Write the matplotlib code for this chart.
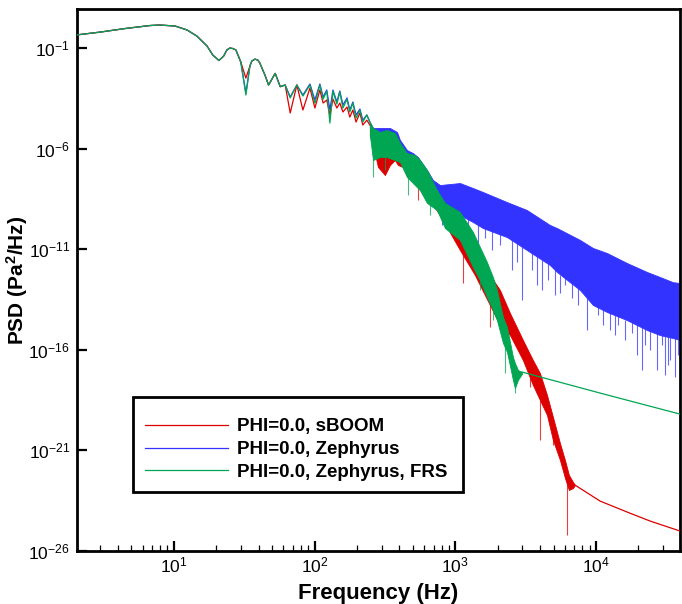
import matplotlib
matplotlib.use("Agg")
import matplotlib.pyplot as plt
from matplotlib.lines import Line2D
from matplotlib.patches import Rectangle
from matplotlib.ticker import NullLocator

plt.rcParams['font.family'] = ['Liberation Sans', 'DejaVu Sans']
plt.rcParams['mathtext.fontset'] = 'custom'
plt.rcParams['mathtext.rm'] = 'Liberation Sans'
plt.rcParams['mathtext.it'] = 'Liberation Sans:italic'
plt.rcParams['mathtext.bf'] = 'Liberation Sans:bold'
plt.rcParams['axes.unicode_minus'] = False

# --- low frequency part (smooth lobes), Hz / Pa^2/Hz ---
line_f = [2.0, 3.0, 4.5, 6.75, 7.9, 10.2, 12.4, 14.6, 17.2, 18.9, 20.9, 22.6, 23.8, 25.0, 26.3,
          27.6, 29.9, 32.5, 34.7, 35.8, 37.7, 39.5, 40.8, 44.4, 47.1, 52.5, 57.0, 61.8, 67.1,
          74.8, 82.6, 92.7, 100.5, 109, 115, 122, 128.5, 135, 144, 151, 159, 170, 178, 187, 197,
          210, 220, 235, 247]
common_start = [0.44, 0.62, 0.93, 1.31, 1.39, 1.24, 0.79, 0.39, 0.126, 0.045, 0.024, 0.040,
                0.080, 0.10, 0.094, 0.080, 0.020]
red_line = common_start + [
    3.2e-3, 0.0127, 0.0226, 0.028, 0.0253, 0.018, 4.5e-3, 1.45e-3, 5.5e-3, 1.2e-3, 1.45e-3,
    5.9e-5, 1.45e-3, 8.3e-5, 1.03e-3, 1.04e-4, 8.2e-4, 1.85e-4, 2.6e-4, 4.7e-5, 2.9e-4,
    1.04e-4, 1.85e-4, 6.6e-5, 1.17e-4, 3.7e-5, 8.3e-5, 2.1e-5, 5.9e-5, 1.49e-5, 2.6e-5,
    1.49e-5]
blue_line = common_start + [
    5.8e-4, 0.0127, 0.0226, 0.028, 0.0253, 0.018, 4.5e-3, 1.45e-3, 5.5e-3, 1.2e-3, 1.45e-3,
    3.7e-4, 1.45e-3, 4.6e-4, 1.63e-3, 2.6e-4, 1.63e-3, 3.7e-4, 8.2e-4, 8.3e-5, 8.2e-4,
    2.07e-4, 7.3e-4, 1.47e-4, 3.3e-4, 8.3e-5, 2.07e-4, 4.7e-5, 9.3e-5, 2.6e-5, 4.7e-5,
    2.1e-5]
green_line = common_start + [
    4.6e-4, 0.0127, 0.0226, 0.028, 0.0253, 0.018, 4.5e-3, 1.45e-3, 5.5e-3, 1.2e-3, 1.45e-3,
    3.3e-4, 1.45e-3, 4.1e-4, 1.45e-3, 1.85e-4, 1.45e-3, 2.9e-4, 7.3e-4, 1.87e-5, 7.3e-4,
    1.65e-4, 6.5e-4, 1.04e-4, 2.9e-4, 6.6e-5, 1.85e-4, 3.3e-5, 8.3e-5, 2.1e-5, 4.7e-5,
    2.1e-5]

# --- noisy part: upper / lower edge of the band ---
red_band_f = [247, 260, 282, 316, 343, 372, 391, 424, 453, 500, 533, 589, 693, 778, 1078, 1378,
              1760, 2075, 2445, 3020, 3558, 3991, 4479, 4938, 5540, 6012, 6412, 6852, 7080]
red_band_hi = [1.49e-5, 1.06e-5, 3.4e-6, 1.9e-6, 1.07e-6, 1.9e-6, 1.51e-6, 8.5e-7, 3.8e-7, 2.7e-7,
               1.53e-7, 3.9e-8, 8.7e-9, 2.8e-9, 1.6e-10, 1.62e-11, 5.2e-13, 9.4e-14, 6.7e-15,
               3.1e-16, 3.1e-17, 7.0e-18, 5.7e-19, 4.6e-20, 2.3e-21, 3.3e-22, 6.0e-23, 2.7e-23,
               1.9e-23]
red_band_lo = [4.7e-6, 1.51e-6, 1.22e-7, 4.9e-8, 1.53e-7, 2.7e-7, 1.53e-7, 1.22e-7, 4.9e-8, 3.9e-8,
               1.55e-8, 8.7e-9, 1.57e-9, 5.0e-10, 9.1e-12, 5.2e-13, 1.69e-14, 1.71e-15, 5.4e-16,
               3.1e-17, 1.78e-18, 3.2e-19, 5.75e-20, 3.3e-21, 3.3e-22, 4.25e-23, 1.08e-23, 1.35e-23,
               1.9e-23]
red_tail_f = [7080, 10670, 16590, 24170, 39450]
red_tail = [1.9e-23, 3.05e-24, 8.7e-25, 3.1e-25, 9.9e-26]

blue_band_f = [247, 260, 291, 343, 385, 404, 453, 500, 542, 629, 693, 778, 1078, 1334, 1570, 2330,
               3225, 4702, 5275, 7687, 9506, 11950, 16590, 23010, 28470, 35210, 39450]
blue_band_hi = [2.1e-5, 1.06e-5, 1.06e-5, 1.06e-5, 6.7e-6, 2.7e-6, 8.5e-7, 6.0e-7, 3.8e-7, 8.6e-8,
                2.75e-8, 1.55e-8, 1.95e-8, 1.1e-8, 7.0e-9, 2.2e-9, 8.9e-10, 1.6e-10, 1.13e-10,
                2.9e-11, 1.15e-11, 6.5e-12, 2.06e-12, 7.4e-13, 4.15e-13, 2.3e-13, 2.1e-13]
blue_band_lo = [1.06e-5, 8.5e-7, 8.5e-7, 8.5e-7, 4.8e-7, 2.7e-7, 1.09e-7, 8.6e-8, 3.9e-8, 1.55e-8,
                4.9e-9, 8.9e-10, 5.0e-10, 2.25e-10, 1.13e-10, 4.0e-11, 9.1e-12, 1.64e-12, 7.4e-13,
                9.4e-14, 1.69e-14, 7.6e-15, 3.0e-15, 9.6e-16, 5.4e-16, 3.85e-16, 3.1e-16]

green_band_f = [247, 260, 291, 326, 372, 404, 453, 516, 560, 629, 740, 844, 1078, 1334, 1495, 1677,
                1849, 1975, 2180, 2330, 2566, 2652, 2786, 2972]
green_band_hi = [2.1e-5, 1.06e-5, 6.7e-6, 8.4e-6, 6.0e-6, 1.9e-6, 6.0e-7, 4.8e-7, 2.7e-7, 8.6e-8,
                 8.7e-9, 2.0e-9, 7.1e-10, 7.2e-11, 1.29e-11, 2.3e-12, 4.15e-13, 9.4e-14, 4.3e-15,
                 1.36e-15, 4.4e-17, 2.2e-17, 9.9e-18, 7.9e-18]
green_band_lo = [4.7e-6, 2.7e-7, 3.8e-7, 3.8e-7, 2.7e-7, 2.16e-7, 3.9e-8, 1.55e-8, 8.7e-9, 2.0e-9,
                 8.9e-10, 1.13e-10, 2.9e-11, 1.3e-12, 2.9e-13, 4.2e-14, 9.5e-15, 3.0e-15, 2.2e-16,
                 7.8e-17, 3.2e-18, 1.26e-18, 3.2e-18, 6.3e-18]
green_tail_f = [2972, 10670, 39450]
green_tail = [7.9e-18, 7.1e-19, 6.4e-20]

# --- single deep dips: frequency, top, bottom ---
red_spike_f = [316, 542, 1132, 1760, 3388, 3991, 4938, 6213]
red_spike_hi = [1.53e-7, 2.75e-8, 2.9e-11, 3.0e-14, 3.1e-17, 3.2e-19, 1.03e-20, 1.06e-22]
red_spike_lo = [4.9e-8, 2.8e-9, 2.1e-13, 1.36e-15, 1.42e-18, 3.3e-21, 1.85e-21, 6.2e-26]

blue_spike_f = [803, 916, 994, 1229, 1449, 1622, 1820, 2075, 2525, 2741, 2972, 3500, 3800, 4127,
                4550, 5105, 5540, 6012, 6745, 7430, 8610, 10310, 11190, 12550, 13610, 14320,
                16030, 17990, 19540, 21180, 22280, 24170, 27100, 29380, 30890, 32430, 33500,
                36400, 38200]
blue_spike_hi = [8.9e-10, 7.1e-10, 6.3e-10, 3.6e-10, 2.25e-10, 1.13e-10, 1.42e-10, 6.4e-11,
                 3.6e-11, 2.9e-11, 1.62e-11, 9.1e-12, 1.15e-11, 2.9e-12, 2.3e-12, 2.3e-12, 5.2e-13,
                 4.15e-13, 2.9e-13, 1.66e-13, 4.2e-14, 1.69e-14, 1.69e-14, 7.6e-15, 7.6e-15,
                 5.4e-15, 3.0e-15, 2.4e-15, 1.71e-15, 1.36e-15, 1.71e-15, 9.6e-16, 6.8e-16, 5.4e-16,
                 5.4e-16, 5.4e-16, 4.3e-16, 3.85e-16, 3.85e-16]
blue_spike_lo = [1.6e-10, 1.6e-10, 9.0e-11, 2.9e-11, 1.62e-11, 3.6e-11, 9.1e-12, 1.62e-11,
                 9.2e-13, 2.3e-12, 3.0e-14, 9.2e-13, 1.66e-13, 9.4e-14, 2.9e-13, 5.3e-14, 6.7e-14,
                 1.66e-13, 3.8e-14, 1.69e-14, 9.6e-16, 5.4e-15, 1.71e-15, 9.6e-16, 5.4e-16,
                 1.71e-15, 3.1e-16, 6.8e-16, 5.5e-17, 9.9e-18, 1.73e-16, 9.8e-17, 9.9e-18, 1.73e-16,
                 5.6e-18, 1.76e-17, 3.1e-17, 4.4e-18, 5.5e-17]

green_spike_f = [260, 316, 460, 660, 1495, 1849, 2252, 2652]
green_spike_hi = [2.7e-7, 3.8e-7, 4.9e-8, 2.8e-9, 9.2e-13, 1.69e-14, 3.1e-16, 2.2e-18]
green_spike_lo = [3.9e-8, 8.6e-8, 4.9e-9, 5.0e-10, 9.4e-14, 3.0e-15, 7.0e-18, 7.1e-19]

y_ticks = [1e-26, 1e-21, 1e-16, 1e-11, 1e-6, 1e-1]
labels = ['PHI=0.0, sBOOM', 'PHI=0.0, Zephyrus', 'PHI=0.0, Zephyrus, FRS']
red, blue, green = '#dd0000', '#3333ff', '#00a651'

fig = plt.figure(figsize=(6.82, 6.04), dpi=100)
ax = fig.add_axes([0.1129, 0.0877, 0.8842, 0.8974])


def draw(color, lf, lv, bf, hi, lo, sf, shi, slo, tf, tv, z):
    ax.plot(lf, lv, color=color, lw=0.9, zorder=z)
    ax.fill_between(bf, lo, hi, color=color, lw=0.6, zorder=z)
    ax.vlines(sf, slo, shi, color=color, lw=0.8, alpha=0.75, zorder=z)
    if tf is not None:
        ax.plot(tf, tv, color=color, lw=0.9, zorder=z)


draw(blue, line_f, blue_line, blue_band_f, blue_band_hi, blue_band_lo,
     blue_spike_f, blue_spike_hi, blue_spike_lo, None, None, 2)
draw(red, line_f, red_line, red_band_f, red_band_hi, red_band_lo,
     red_spike_f, red_spike_hi, red_spike_lo, red_tail_f, red_tail, 3)
draw(green, line_f, green_line, green_band_f, green_band_hi, green_band_lo,
     green_spike_f, green_spike_hi, green_spike_lo, green_tail_f, green_tail, 4)

ax.set_xscale('log')
ax.set_yscale('log')
ax.set_xlim(2.05, 3.95e4)
ax.set_ylim(1e-26, 8.7)
ax.set_yticks(y_ticks)
ax.yaxis.set_minor_locator(NullLocator())

for s in ax.spines.values():
    s.set_linewidth(2)
ax.tick_params(which='both', direction='in', top=False, right=False, labelsize=12.5)
ax.tick_params(which='major', length=7.5, width=1.6, pad=5)
ax.tick_params(which='minor', length=4, width=0.9)
ax.tick_params(axis='x', which='major', pad=3)

ax.set_xlabel('Frequency (Hz)', fontsize=16, fontweight='bold', labelpad=6)
ax.set_ylabel(r'PSD (Pa$^\mathbf{2}$/Hz)', fontsize=15, fontweight='bold')
ax.yaxis.set_label_coords(-0.078, 0.5)

# legend box drawn as its own frame
ax.add_patch(Rectangle((0.0929, 0.1089), 0.547, 0.1753, transform=ax.transAxes,
                       facecolor='white', edgecolor='black', lw=2, zorder=9))
handles = [Line2D([], [], color=c, lw=0.9) for c in (red, blue, green)]
leg = ax.legend(handles, labels, loc='upper left', bbox_to_anchor=(0.0929, 0.25),
                frameon=False, prop={'weight': 'bold', 'size': 13.5}, handlelength=4.4,
                handletextpad=0.5, labelspacing=0.3, borderpad=0, borderaxespad=0)
leg.set_zorder(10)
leg.set_bbox_to_anchor((0.0929 + 12 / 603, 0.245), transform=ax.transAxes)

fig.savefig('out.png', dpi=100)
